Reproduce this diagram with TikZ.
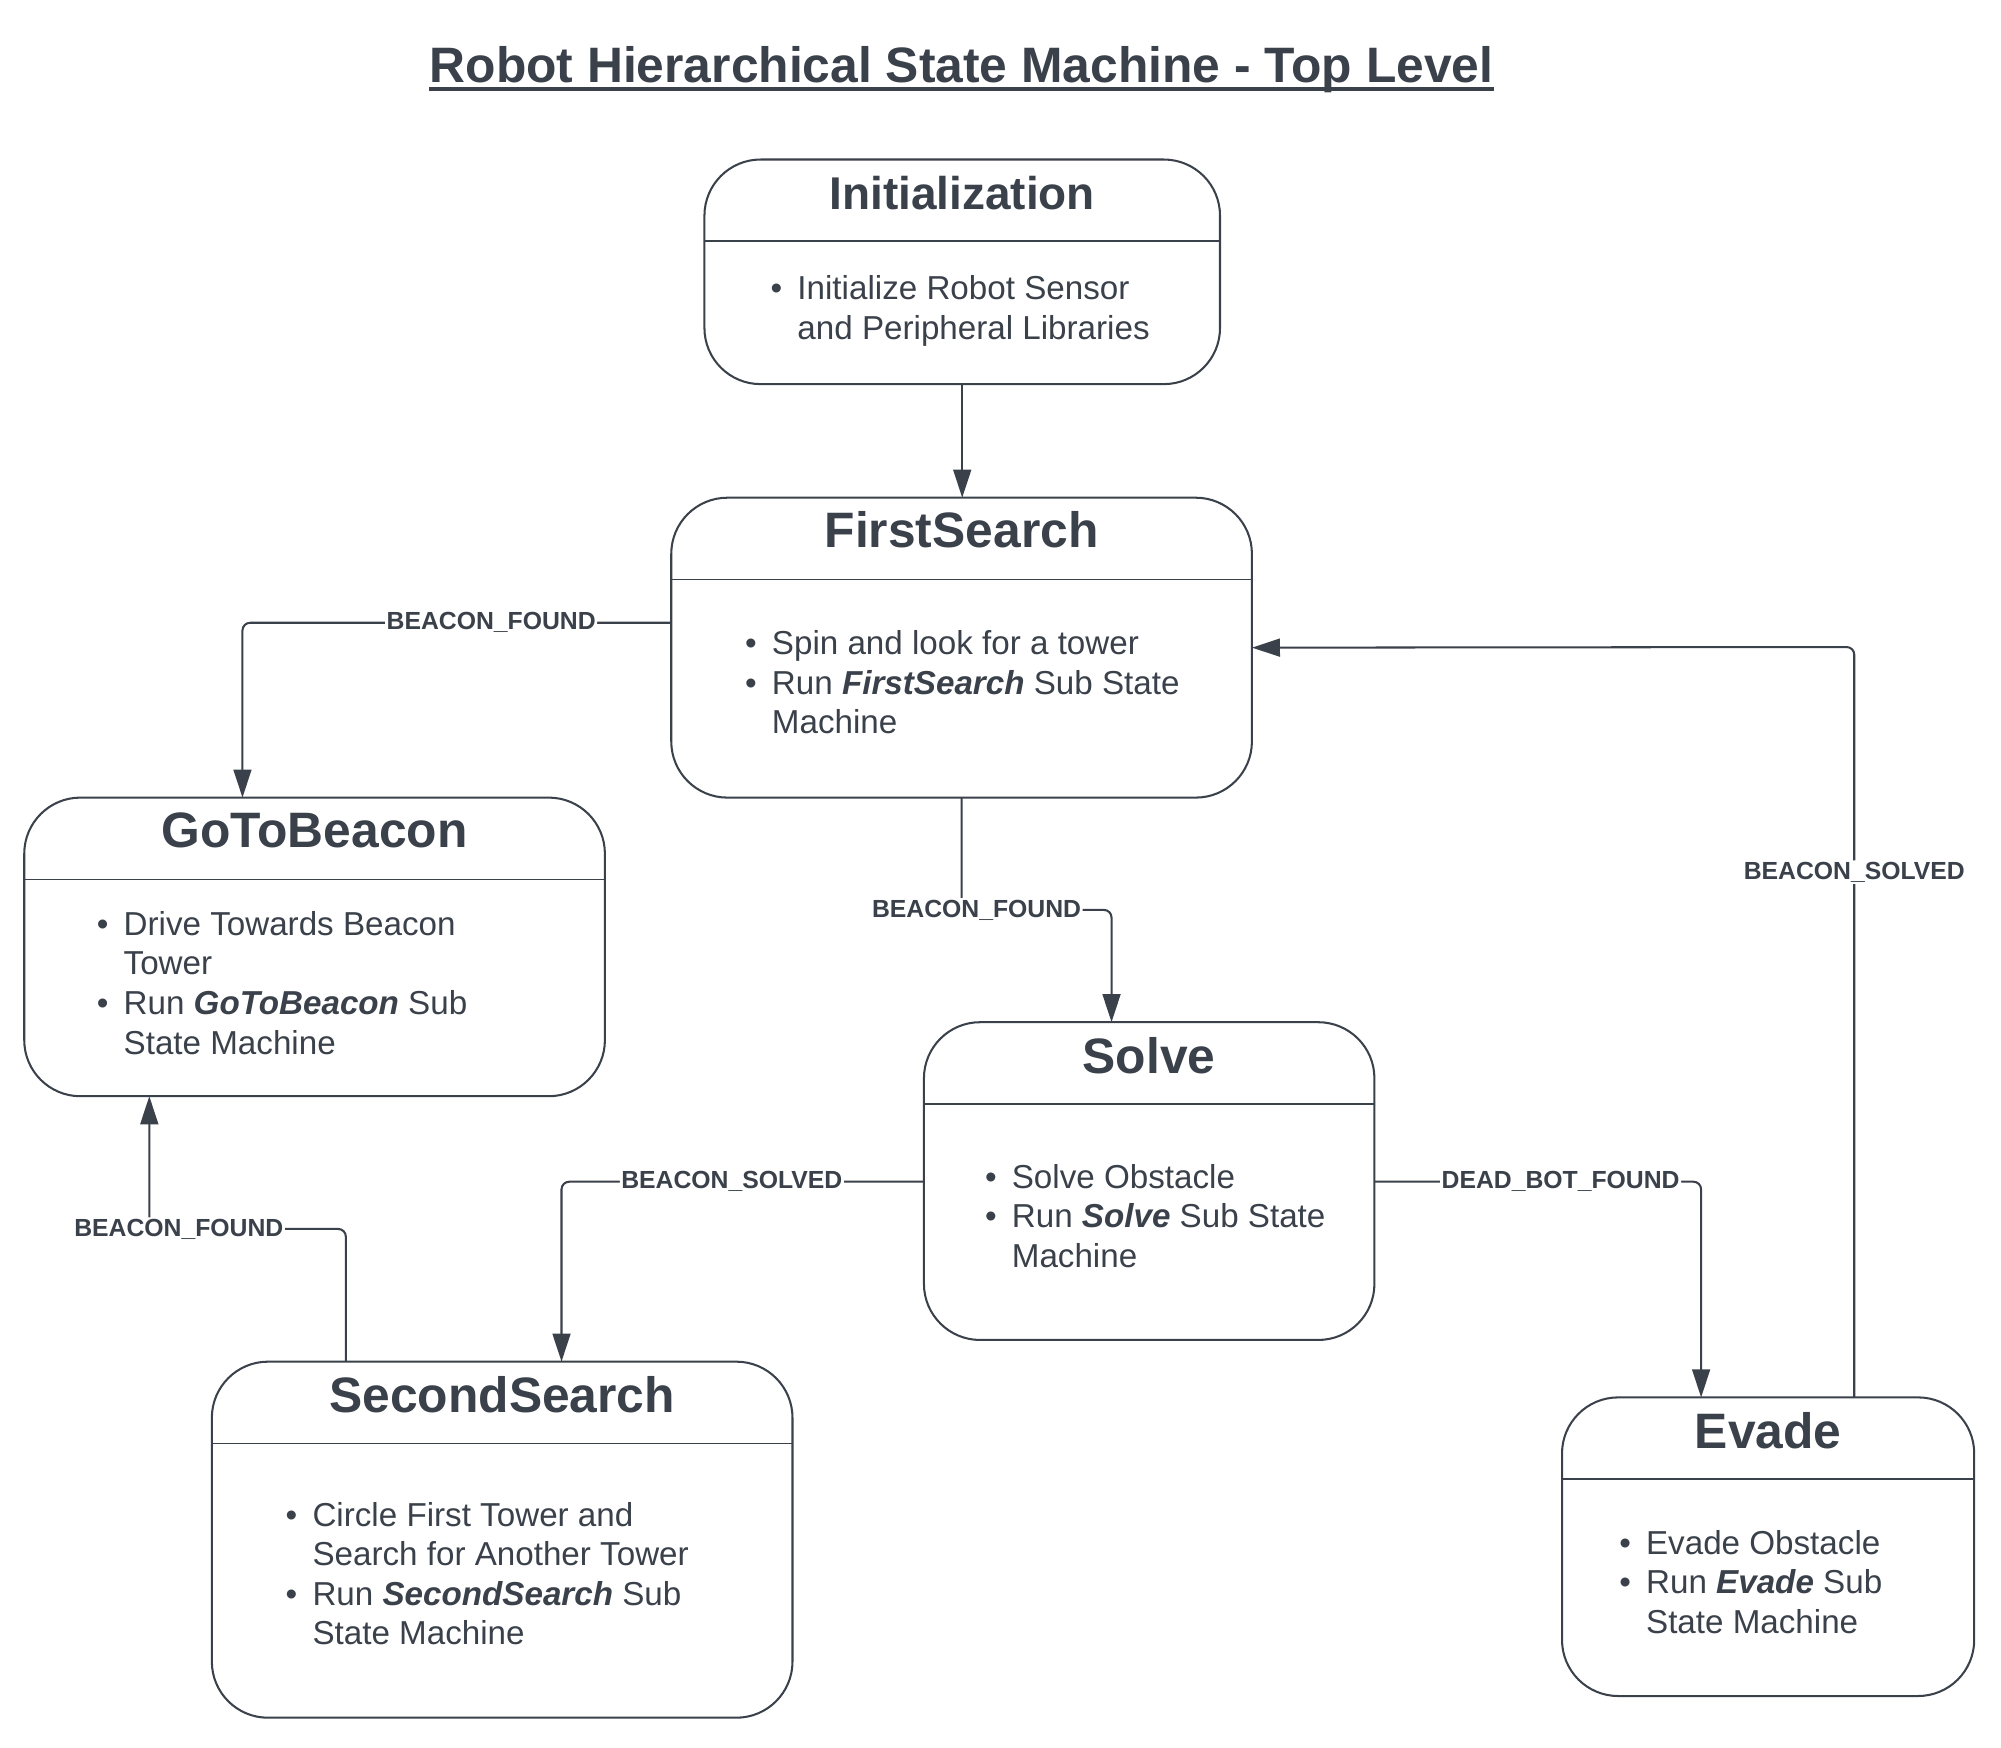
\documentclass[tikz,border=0pt]{standalone}
\usepackage{fontspec}
\setmainfont{Liberation Sans}
\usepackage{tikz}
\usetikzlibrary{positioning, arrows.meta}
\definecolor{ink}{HTML}{3A414A}
\newcommand{\bl}{\makebox[10.5pt][l]{\textbullet}}
\newcommand{\ind}{\makebox[10.5pt][l]{}}

\begin{document}
\begin{tikzpicture}[x=0.5pt, y=-0.5pt, >={Triangle[length=11pt, width=7pt]}, ink,
    statebox/.style={draw=ink, line width=0.8pt, rounded corners=22pt, inner sep=0pt, outer sep=0pt},
    statetitle/.style={anchor=base, inner sep=0pt, font=\fontsize{19.5}{22}\selectfont\bfseries},
    statebody/.style={anchor=base west, inner sep=0pt, align=left, font=\fontsize{13}{15.5}\selectfont},
    divider/.style={draw=ink, line width=0.6pt},
    trans/.style={->, draw=ink, line width=0.8pt, rounded corners=3pt},
    lbl/.style={fill=white, inner sep=0.6pt, font=\fontsize{9.7}{11}\selectfont\bfseries}]
    	\useasboundingbox (0,0) rectangle (1568,1369.7);
    	\node[anchor=base, inner sep=0pt, font=\fontsize{19.5}{23}\selectfont\bfseries] (title) at (753.5,65) {Robot Hierarchical State Machine - Top Level};
    	\draw[line width=1.5pt] ([yshift=-2.3pt]title.base west) -- ([yshift=-2.3pt]title.base east);
    	% states
    	\node[statebox, minimum width=202pt, minimum height=88pt] (init) at (754,213) {};
    	\draw[divider] (init.west |- 0,189) -- (init.east |- 0,189);
    	\node[statetitle, font=\fontsize{18}{21}\selectfont\bfseries] (init-t) at (754,164) {Initialization};
    	\node[statebody] (init-b) at (603.5,266) {\bl Initialize Robot Sensor\\ \ind and Peripheral Libraries};
    	\node[statebox, minimum width=227.5pt, minimum height=117.5pt] (fs) at (753.5,507.5) {};
    	\draw[divider] (fs.west |- 0,454) -- (fs.east |- 0,454);
    	\node[statetitle] (fs-t) at (753.5,429) {FirstSearch};
    	\node[statebody] (fs-b) at (583.5,575) {\bl Spin and look for a tower\\ \bl Run \textbf{\textit{FirstSearch}} Sub State\\ \ind Machine};
    	\node[statebox, minimum width=227.5pt, minimum height=117pt] (gob) at (246.5,742) {};
    	\draw[divider] (gob.west |- 0,689) -- (gob.east |- 0,689);
    	\node[statetitle] (gob-t) at (246.5,664) {GoToBeacon};
    	\node[statebody] (gob-b) at (75.5,826) {\bl Drive Towards Beacon\\ \ind Tower\\ \bl Run \textbf{\textit{GoToBeacon}} Sub\\ \ind State Machine};
    	\node[statebox, minimum width=176.5pt, minimum height=124.5pt] (solve) at (900.5,925.5) {};
    	\draw[divider] (solve.west |- 0,865) -- (solve.east |- 0,865);
    	\node[statetitle] (solve-t) at (900.5,841) {Solve};
    	\node[statebody] (solve-b) at (771.5,993) {\bl Solve Obstacle\\ \bl Run \textbf{\textit{Solve}} Sub State\\ \ind Machine};
    	\node[statebox, minimum width=227.5pt, minimum height=139.5pt] (ss) at (393.5,1206.5) {};
    	\draw[divider] (ss.west |- 0,1131) -- (ss.east |- 0,1131);
    	\node[statetitle] (ss-t) at (393.5,1107) {SecondSearch};
    	\node[statebody] (ss-b) at (223.5,1289) {\bl Circle First Tower and\\ \ind Search for Another Tower\\ \bl Run \textbf{\textit{SecondSearch}} Sub\\ \ind State Machine};
    	\node[statebox, minimum width=161.5pt, minimum height=117pt] (evade) at (1385.5,1212) {};
    	\draw[divider] (evade.west |- 0,1159) -- (evade.east |- 0,1159);
    	\node[statetitle] (evade-t) at (1385.5,1135) {Evade};
    	\node[statebody] (evade-b) at (1268.5,1280) {\bl Evade Obstacle\\ \bl Run \textbf{\textit{Evade}} Sub\\ \ind State Machine};
    	% transitions
    	\draw[trans] (init.south) -- (init.south |- fs.north);
    	\draw[trans] (fs.west |- 0,488) -- node[lbl, pos=0.42]{BEACON\_FOUND} (190,488) -- (gob.north -| 190,0);
    	\draw[trans] (fs.south) -- (fs.south |- 0,713) -- node[lbl, pos=0.1]{BEACON\_FOUND} (871,713) -- (solve.north -| 871,0);
    	\draw[trans] (solve.west |- 0,926) -- node[lbl, pos=0.53]{BEACON\_SOLVED} (440,926) -- (ss.north -| 440,0);
    	\draw[trans] (solve.east |- 0,926) -- node[lbl, pos=0.57]{DEAD\_BOT\_FOUND} (1333,926) -- (evade.north -| 1333,0);
    	\draw[trans] (evade.north -| 1453,0) -- node[lbl, pos=0.7]{BEACON\_SOLVED} (1453,507) -- (fs.east);
    	\draw[trans] (ss.north -| 271,0) -- (271,963) -- node[lbl, pos=0.85]{BEACON\_FOUND} (117,963) -- (gob.south -| 117,0);
\end{tikzpicture}
\end{document}
